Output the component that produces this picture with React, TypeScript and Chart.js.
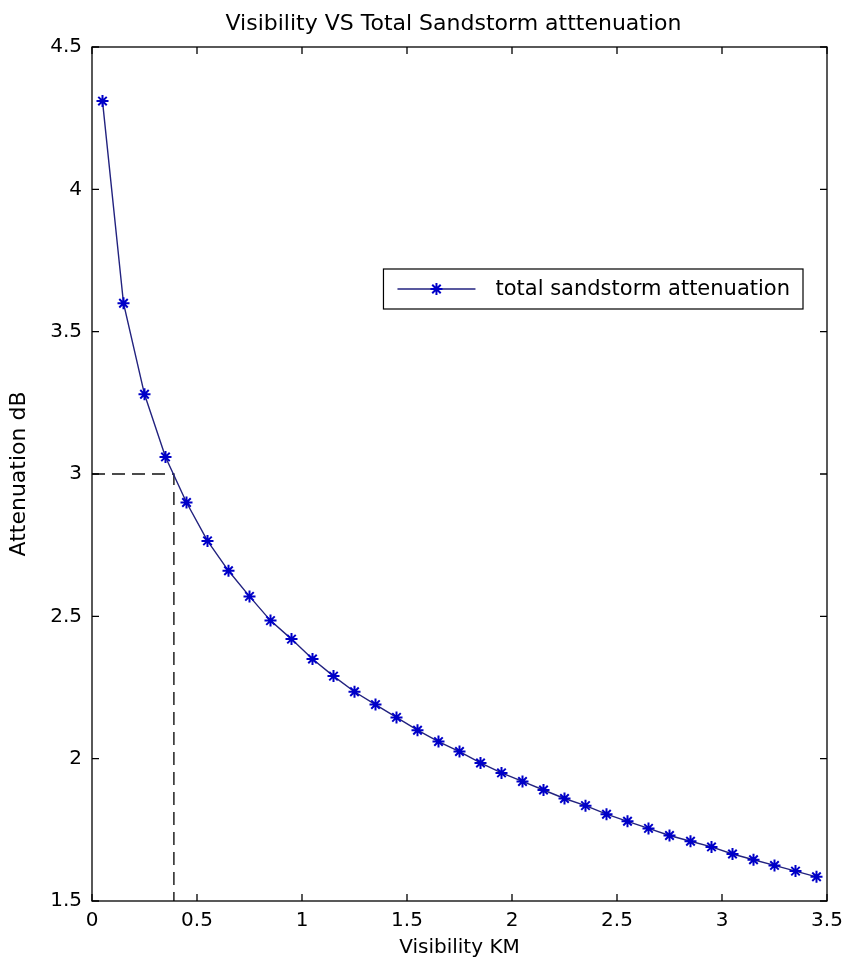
import React, { useEffect, useRef } from "react";
import { Chart, registerables } from "chart.js";

Chart.register(...registerables);

const chartTitle = "Visibility VS Total Sandstorm atttenuation";
const xAxisTitle = "Visibility KM";
const yAxisTitle = "Attenuation dB";
const seriesLabel = "total sandstorm attenuation";

const visibilityKm = [
  0.05, 0.15, 0.25, 0.35, 0.45, 0.55, 0.65, 0.75, 0.85, 0.95,
  1.05, 1.15, 1.25, 1.35, 1.45, 1.55, 1.65, 1.75, 1.85, 1.95,
  2.05, 2.15, 2.25, 2.35, 2.45, 2.55, 2.65, 2.75, 2.85, 2.95,
  3.05, 3.15, 3.25, 3.35, 3.45,
];
const attenuationDb = [
  4.31, 3.6, 3.28, 3.06, 2.9, 2.765, 2.66, 2.57, 2.485, 2.42,
  2.35, 2.29, 2.235, 2.19, 2.145, 2.1, 2.06, 2.025, 1.985, 1.95,
  1.92, 1.89, 1.86, 1.835, 1.805, 1.78, 1.755, 1.73, 1.71, 1.69,
  1.665, 1.645, 1.625, 1.605, 1.585,
];

const refX = [0, 0.39, 0.39];
const refY = [3, 3, 1.5];

const xTicks = [0, 0.5, 1, 1.5, 2, 2.5, 3, 3.5];
const yTicks = [1.5, 2, 2.5, 3, 3.5, 4, 4.5];

const FONT = "'DejaVu Sans', sans-serif";
const LINE_COLOR = "#22227f";
const MARK_COLOR = "#0000c8";

const framePlugin = {
  id: "matlabFrame",
  afterDraw(chart: any) {
    const { ctx, chartArea } = chart;
    const { left, right, top, bottom } = chartArea;
    const xs = chart.scales.x;
    const ys = chart.scales.y;
    ctx.save();
    ctx.strokeStyle = "#000";
    ctx.lineWidth = 1.3;
    ctx.strokeRect(left, top, right - left, bottom - top);
    const tl = 7;
    ctx.beginPath();
    xTicks.forEach((v) => {
      const px = xs.getPixelForValue(v);
      ctx.moveTo(px, bottom);
      ctx.lineTo(px, bottom - tl);
      ctx.moveTo(px, top);
      ctx.lineTo(px, top + tl);
    });
    yTicks.forEach((v) => {
      const py = ys.getPixelForValue(v);
      ctx.moveTo(left, py);
      ctx.lineTo(left + tl, py);
      ctx.moveTo(right, py);
      ctx.lineTo(right - tl, py);
    });
    ctx.stroke();

    // title
    ctx.fillStyle = "#000";
    ctx.font = `22px ${FONT}`;
    ctx.textAlign = "center";
    ctx.textBaseline = "alphabetic";
    ctx.fillText(chartTitle, (left + right) / 2 - 6, top - 17);

    // legend
    ctx.font = `21px ${FONT}`;
    const tw = ctx.measureText(seriesLabel).width;
    const bw = 14 + 78 + 20 + tw + 13;
    const bh = 40;
    const bx = right - 24 - bw;
    const by = top + 222;
    ctx.fillStyle = "#fff";
    ctx.fillRect(bx, by, bw, bh);
    ctx.strokeStyle = "#000";
    ctx.lineWidth = 1.2;
    ctx.strokeRect(bx, by, bw, bh);
    const ly = by + bh / 2;
    ctx.strokeStyle = LINE_COLOR;
    ctx.lineWidth = 1.4;
    ctx.beginPath();
    ctx.moveTo(bx + 14, ly);
    ctx.lineTo(bx + 92, ly);
    ctx.stroke();
    ctx.strokeStyle = MARK_COLOR;
    ctx.lineWidth = 2;
    const cx = bx + 53;
    const r = 6;
    ctx.beginPath();
    ctx.moveTo(cx - r, ly);
    ctx.lineTo(cx + r, ly);
    ctx.moveTo(cx, ly - r);
    ctx.lineTo(cx, ly + r);
    const d = r * 0.7071;
    ctx.moveTo(cx - d, ly - d);
    ctx.lineTo(cx + d, ly + d);
    ctx.moveTo(cx - d, ly + d);
    ctx.lineTo(cx + d, ly - d);
    ctx.stroke();
    ctx.fillStyle = "#000";
    ctx.textAlign = "left";
    ctx.textBaseline = "middle";
    ctx.fillText(seriesLabel, bx + 112, ly + 1);
    ctx.restore();
  },
};

export default function App() {
  const ref = useRef<HTMLCanvasElement | null>(null);

  useEffect(() => {
    document.body.style.margin = "0";
    const canvas = ref.current;
    if (!canvas) return;
    const chart = new Chart(canvas, {
      type: "line",
      data: {
        datasets: [
          {
            label: seriesLabel,
            data: visibilityKm.map((x, i) => ({ x, y: attenuationDb[i] })),
            borderColor: LINE_COLOR,
            borderWidth: 1.4,
            pointStyle: "star",
            pointRadius: 6,
            pointBorderColor: MARK_COLOR,
            pointBackgroundColor: MARK_COLOR,
            pointBorderWidth: 2,
            tension: 0,
            fill: false,
          },
          {
            label: "ref",
            data: refX.map((x, i) => ({ x, y: refY[i] })),
            borderColor: "#111",
            borderWidth: 1.4,
            borderDash: [13, 7],
            pointRadius: 0,
            tension: 0,
            fill: false,
          },
        ],
      },
      plugins: [framePlugin],
      options: {
        animation: false,
        responsive: false,
        maintainAspectRatio: false,
        layout: { padding: { top: 47, right: 19, bottom: 0, left: 0 } },
        plugins: {
          legend: { display: false },
          title: { display: false },
          tooltip: { enabled: false },
        },
        scales: {
          x: {
            type: "linear",
            min: 0,
            max: 3.5,
            afterBuildTicks: (s: any) => {
              s.ticks = xTicks.map((v) => ({ value: v }));
            },
            afterFit: (s: any) => {
              s.height = 64;
              s.paddingLeft = 0;
              s.paddingRight = 0;
            },
            grid: { display: false, drawTicks: false },
            border: { display: false },
            ticks: {
              color: "#000",
              font: { family: FONT, size: 20 },
              padding: 8,
              maxRotation: 0,
              autoSkip: false,
              callback: (v: any) => String(v),
            },
            title: {
              display: true,
              text: xAxisTitle,
              color: "#000",
              font: { family: FONT, size: 20 },
              padding: { top: 0, bottom: 5 },
            },
          },
          y: {
            type: "linear",
            min: 1.5,
            max: 4.5,
            afterBuildTicks: (s: any) => {
              s.ticks = yTicks.map((v) => ({ value: v }));
            },
            afterFit: (s: any) => {
              s.width = 92;
              s.paddingTop = 0;
              s.paddingBottom = 0;
            },
            grid: { display: false, drawTicks: false },
            border: { display: false },
            ticks: {
              color: "#000",
              font: { family: FONT, size: 20 },
              padding: 10,
              autoSkip: false,
              callback: (v: any) => String(v),
            },
            title: {
              display: true,
              text: yAxisTitle,
              color: "#000",
              font: { family: FONT, size: 22 },
              padding: { top: 6, bottom: 0 },
            },
          },
        },
      },
    });
    return () => chart.destroy();
  }, []);

  return (
    <div style={{ width: 846, height: 965 }}>
      <canvas ref={ref} width={846} height={965} style={{ display: "block" }} />
    </div>
  );
}
